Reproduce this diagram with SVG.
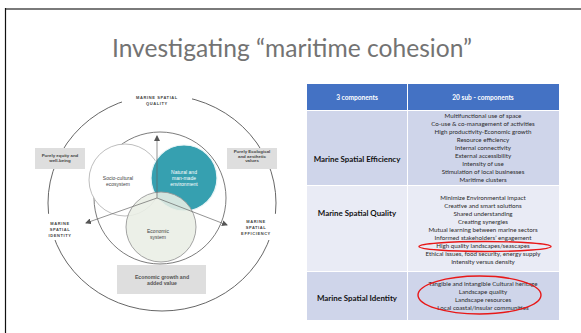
<svg xmlns="http://www.w3.org/2000/svg" width="581" height="333" viewBox="0 0 581 333">
<defs>
<style>
.title{font-family:Lato,"Liberation Sans",sans-serif;font-weight:400;font-size:24.6px;fill:#737373}
.hd{font-family:Lato,"Liberation Sans",sans-serif;font-weight:bold;font-size:6.6px;fill:#fff}
.rl{font-family:Lato,"Liberation Sans",sans-serif;font-weight:bold;font-size:7.9px;fill:#111}
.sc{font-family:Lato,"Liberation Sans",sans-serif;font-size:6.2px;fill:#2a2a2a}
.dl{font-family:"Liberation Sans",sans-serif;font-weight:bold;font-size:4px;letter-spacing:0.6px;fill:#444}
.bx{font-family:"Liberation Sans",sans-serif;font-weight:bold;font-size:4.4px;fill:#444}
.bx2{font-family:"Liberation Sans",sans-serif;font-weight:bold;font-size:5.2px;fill:#555}
.ct{font-family:"Liberation Sans",sans-serif;font-size:5px;fill:#444}
.box{fill:#dedede}
.red{fill:none;stroke:#e81818;stroke-width:1.4}
</style>
<marker id="ah" markerWidth="6" markerHeight="6" refX="5" refY="3" orient="auto" markerUnits="userSpaceOnUse">
<path d="M0,0 L6,3 L0,6 Z" fill="#555"/>
</marker>
</defs>
<rect width="581" height="333" fill="#fff"/>
<g id="frame">
<line x1="5" y1="9" x2="581" y2="9" stroke="#7a7a7a" stroke-width="2"/>
<line x1="5.5" y1="8" x2="5.5" y2="333" stroke="#111" stroke-width="1.2"/>
</g>
<text id="title" class="title" x="292" y="57" text-anchor="middle">Investigating “maritime cohesion”</text>

<g id="diagram">
<g id="outer-ring">
<ellipse cx="162" cy="203" rx="114" ry="108" fill="none" stroke="#555" stroke-width="0.9"/>
<rect x="122" y="90" width="70" height="20" fill="#fff"/>
<rect x="40" y="214" width="40" height="26" fill="#fff"/>
<rect x="236" y="214" width="44" height="26" fill="#fff"/>
</g>
<g id="middle-ring">
<circle cx="160" cy="198" r="66" fill="none" stroke="#5a5a5a" stroke-width="0.8"/>
</g>
<g id="socio-cultural">
<circle cx="125" cy="180" r="36" fill="#fff" stroke="#b5b5b5" stroke-width="0.9"/>
<text class="ct" x="118" y="180" text-anchor="middle">Socio-cultural</text>
<text class="ct" x="118" y="186" text-anchor="middle">ecosystem</text>
</g>
<g id="natural">
<circle cx="184" cy="178" r="33" fill="#36a0b0" stroke="#e8f4f6" stroke-width="1.2"/>
<text class="ct" x="184" y="174" text-anchor="middle" style="fill:#fff">Natural and</text>
<text class="ct" x="184" y="180" text-anchor="middle" style="fill:#fff">man-made</text>
<text class="ct" x="184" y="186" text-anchor="middle" style="fill:#fff">environment</text>
</g>
<g id="economic">
<circle cx="161" cy="227" r="35" fill="#e9eee5" fill-opacity="0.88" stroke="#999" stroke-width="0.9"/>
<text class="ct" x="158" y="233" text-anchor="middle">Economic</text>
<text class="ct" x="158" y="239" text-anchor="middle">system</text>
</g>
<g id="connectors" stroke="#666" stroke-width="0.7" fill="none">
<line x1="157" y1="198" x2="157" y2="136" marker-end="url(#ah)"/>
<line x1="157" y1="198" x2="86" y2="223" marker-end="url(#ah)"/>
<line x1="157" y1="198" x2="227" y2="225" marker-end="url(#ah)"/>
</g>
<g id="label-quality">
<text class="dl" x="157" y="99" text-anchor="middle">MARINE SPATIAL</text>
<text class="dl" x="157" y="105" text-anchor="middle">QUALITY</text>
</g>
<g id="label-identity">
<text class="dl" x="60" y="225" text-anchor="middle">MARINE</text>
<text class="dl" x="60" y="231" text-anchor="middle">SPATIAL</text>
<text class="dl" x="60" y="237" text-anchor="middle">IDENTITY</text>
</g>
<g id="label-efficiency">
<text class="dl" x="256" y="223" text-anchor="middle">MARINE</text>
<text class="dl" x="256" y="229" text-anchor="middle">SPATIAL</text>
<text class="dl" x="256" y="235" text-anchor="middle">EFFICIENCY</text>
</g>
<g id="box-equity">
<rect class="box" x="35" y="148" width="50" height="21"/>
<text class="bx" x="60" y="157" text-anchor="middle">Purely equity and</text>
<text class="bx" x="60" y="162" text-anchor="middle">well-being</text>
</g>
<g id="box-ecological">
<rect class="box" x="227" y="148" width="50" height="21"/>
<text class="bx" x="252" y="153" text-anchor="middle">Purely Ecological</text>
<text class="bx" x="252" y="157.5" text-anchor="middle">and aesthetic</text>
<text class="bx" x="252" y="162" text-anchor="middle">values</text>
</g>
<g id="box-economic">
<rect class="box" x="117" y="265" width="89" height="29"/>
<text class="bx2" x="162" y="279" text-anchor="middle">Economic growth and</text>
<text class="bx2" x="162" y="285" text-anchor="middle">added value</text>
</g>
</g>

<g id="table">
<g id="header">
<rect x="307" y="84" width="100" height="26" fill="#4472c4"/>
<rect x="408" y="84" width="151" height="26" fill="#4472c4"/>
<text class="hd" x="357" y="99.5" text-anchor="middle">3 components</text>
<text class="hd" x="483" y="99.5" text-anchor="middle">20 sub - components</text>
</g>
<g id="row-efficiency">
<rect x="307" y="111" width="100" height="74" fill="#cfd5ea"/>
<rect x="408" y="111" width="151" height="74" fill="#cfd5ea"/>
<text class="rl" x="357" y="161.5" text-anchor="middle">Marine Spatial Efficiency</text>
<g class="sc" text-anchor="middle">
<text x="483" y="118">Multifunctional use of space</text>
<text x="483" y="126">Co-use &amp; co-management of activities</text>
<text x="483" y="134">High productivity-Economic growth</text>
<text x="483" y="142">Resource efficiency</text>
<text x="483" y="150">Internal connectivity</text>
<text x="483" y="158">External accessibility</text>
<text x="483" y="166">Intensity of use</text>
<text x="483" y="174">Stimulation of local businesses</text>
<text x="483" y="182">Maritime clusters</text>
</g>
</g>
<g id="row-quality">
<rect x="307" y="186" width="100" height="85" fill="#e9ebf5"/>
<rect x="408" y="186" width="151" height="85" fill="#e9ebf5"/>
<text class="rl" x="357" y="215.5" text-anchor="middle">Marine Spatial Quality</text>
<g class="sc" text-anchor="middle">
<text x="483" y="200">Minimize Environmental impact</text>
<text x="483" y="208">Creative and smart solutions</text>
<text x="483" y="216">Shared understanding</text>
<text x="483" y="224">Creating synergies</text>
<text x="483" y="232">Mutual learning between marine sectors</text>
<text x="483" y="240">Informed stakeholders’ engagement</text>
<text x="483" y="248">High quality landscapes/seascapes</text>
<text x="483" y="256">Ethical issues, food security, energy supply</text>
<text x="483" y="264">Intensity versus density</text>
</g>
</g>
<g id="row-identity">
<rect x="307" y="272" width="100" height="48" fill="#cfd5ea"/>
<rect x="408" y="272" width="151" height="48" fill="#cfd5ea"/>
<text class="rl" x="357" y="300.5" text-anchor="middle">Marine Spatial Identity</text>
<g class="sc" text-anchor="middle">
<text x="483" y="285.5">Tangible and intangible Cultural heritage</text>
<text x="483" y="294">Landscape quality</text>
<text x="483" y="301.5">Landscape resources</text>
<text x="483" y="310">Local coastal/insular communities</text>
</g>
</g>
<g id="highlights">
<ellipse class="red" cx="485" cy="246.5" rx="66" ry="5"/>
<ellipse class="red" cx="479.5" cy="295" rx="61.5" ry="19"/>
</g>
</g>
</svg>
